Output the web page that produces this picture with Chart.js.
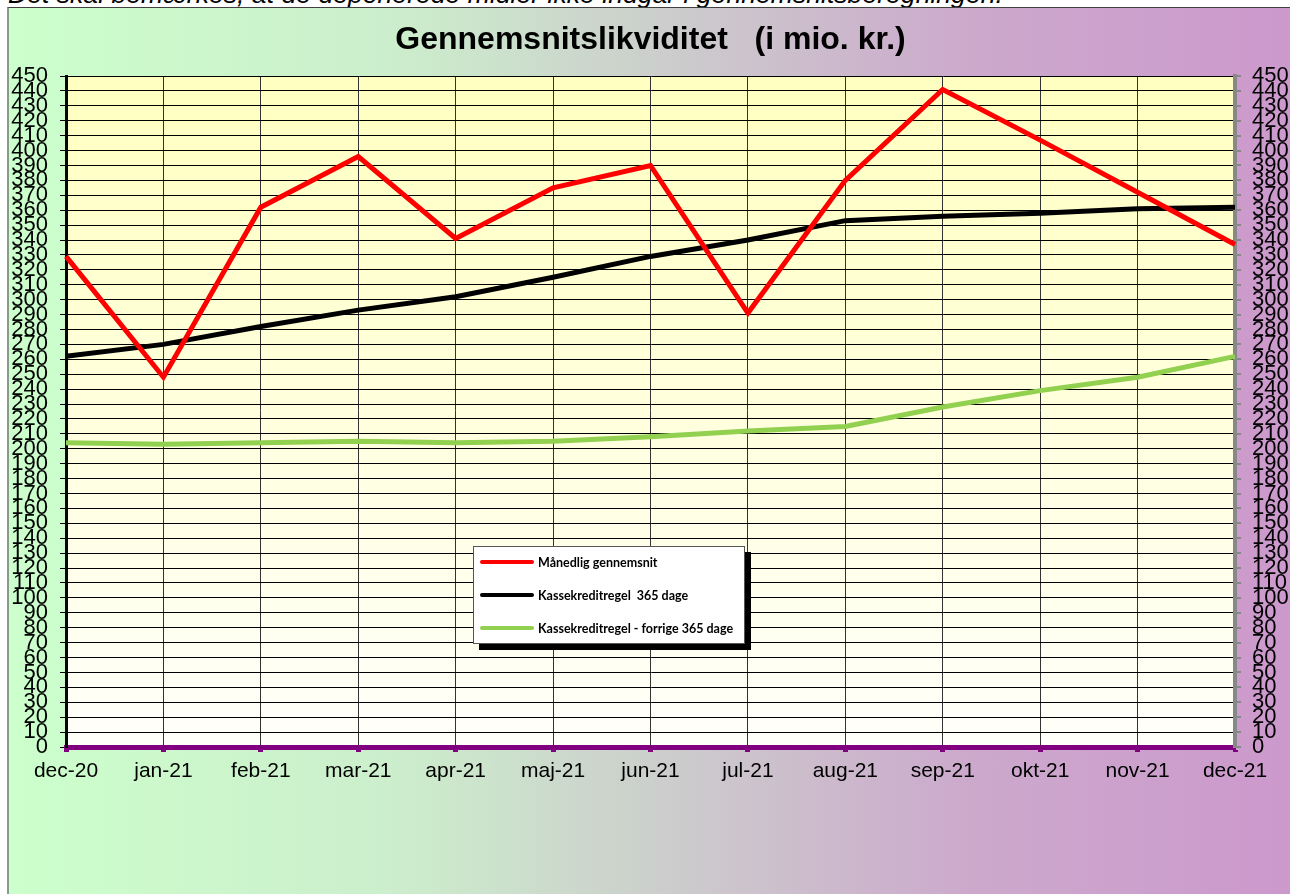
<!DOCTYPE html>
<html>
<head>
<meta charset="utf-8">
<script src="https://cdn.jsdelivr.net/npm/chart.js@4"></script>
<style>
  body { margin: 0; width: 1290px; height: 894px; overflow: hidden; background: #fff; position: relative; }
  #note { position: absolute; left: 8px; top: -21px; font: italic 26.6px "Liberation Sans", Arial, sans-serif; line-height: 30px; color: #000; white-space: nowrap; }
  #box {
    position: absolute; left: 7px; top: 7px; width: 1283px; height: 887px;
    background: linear-gradient(to right, #ccffcc 0%, #cceecc 30%, #cccccc 52%, #cca9cc 75%, #cc99cc 100%);
    border-top: 1px solid #404040; border-left: 2px solid #8a9a8a; box-sizing: border-box;
  }
  #chartWrap { position: absolute; left: 0; top: 0; width: 1283px; height: 887px; }
  #legend {
    position: absolute; left: 464px; top: 538px; width: 272px; height: 98px;
    background: #fff; border: 1px solid #555; box-shadow: 6px 6px 0 #000; box-sizing: border-box;
    font: bold 12.5px Lato, "Noto Sans", sans-serif; color: #000; white-space: pre;
  }
  .item { position: absolute; left: 6px; height: 14px; display: flex; align-items: center; }
  .item span.sw { display: inline-block; width: 54px; height: 4px; margin-right: 4px; border-radius: 2px; }
</style>
</head>
<body>
<div id="note">Det skal bemærkes, at de deponerede midler ikke indgår i gennemsnitsberegningen.</div>
<div id="box">
  <div id="chartWrap"><canvas id="chart"></canvas></div>
  <div id="legend"></div>
</div>
<script>
const months = ["dec-20", "jan-21", "feb-21", "mar-21", "apr-21", "maj-21", "jun-21",
  "jul-21", "aug-21", "sep-21", "okt-21", "nov-21", "dec-21"];
const maanedlig = [329, 248, 362, 396, 341, 375, 390, 291, 380, 441, 407, 372, 337];
const kasse365 = [262, 270, 282, 293, 302, 315, 329, 340, 353, 356, 358, 361, 362];
const forrige365 = [204, 203, 204, 205, 204, 205, 208, 212, 215, 228, 239, 248, 262];
const seriesNames = ["Månedlig gennemsnit", "Kassekreditregel  365 dage", "Kassekreditregel - forrige 365 dage"];
const seriesColors = ["#ff0000", "#000000", "#92d050"];
const yMin = 0, yMax = 450, yStep = 10;

const plotBg = {
  id: "plotBg",
  beforeDraw(chart) {
    const { ctx, chartArea: a } = chart;
    const g = ctx.createLinearGradient(0, a.top, 0, a.bottom);
    g.addColorStop(0, "#ffffc0");
    g.addColorStop(1, "#fffffa");
    ctx.save();
    ctx.fillStyle = g;
    ctx.fillRect(a.left, a.top, a.right - a.left, a.bottom - a.top);
    ctx.restore();
  }
};

const tickFont = { family: "'Liberation Sans', Arial, sans-serif", size: 22, lineHeight: 1 };

new Chart(document.getElementById("chart"), {
  type: "line",
  data: {
    labels: months,
    datasets: [maanedlig, kasse365, forrige365].map((d, i) => ({
      label: seriesNames[i],
      data: d,
      borderColor: seriesColors[i],
      backgroundColor: seriesColors[i],
      borderWidth: 5,
      pointRadius: 0,
      tension: 0,
      yAxisID: "y"
    }))
  },
  options: {
    responsive: true,
    maintainAspectRatio: false,
    animation: false,
    layout: { padding: 0 },
    plugins: {
      legend: { display: false },
      tooltip: { enabled: false },
      title: {
        display: true,
        text: "Gennemsnitslikviditet   (i mio. kr.)",
        color: "#000",
        font: { family: "'Liberation Sans', Arial, sans-serif", size: 32, weight: "bold", lineHeight: 1.2 },
        padding: { top: 13, bottom: 16.6 }
      }
    },
    scales: {
      x: {
        offset: false,
        grid: { color: "#333", lineWidth: 1, tickColor: "#800080", tickWidth: 5, tickLength: 5 },
        border: { color: "#800080", width: 5 },
        ticks: { color: "#000", font: { family: "'Liberation Sans', Arial, sans-serif", size: 21 }, padding: 7, maxRotation: 0, autoSkip: false },
        afterFit(s) { s.height = 148; }
      },
      y: {
        position: "left",
        min: yMin, max: yMax,
        grid: { color: "#000", lineWidth: 1, tickColor: "#000", tickLength: 6 },
        border: { color: "#000", width: 3 },
        ticks: { stepSize: yStep, autoSkip: false, color: "#000", font: tickFont, padding: 12 },
        afterFit(s) { s.width = 57; }
      },
      y2: {
        position: "right",
        min: yMin, max: yMax,
        grid: { drawOnChartArea: false, tickColor: "#888", tickLength: 6, lineWidth: 2 },
        border: { color: "#888", width: 4 },
        ticks: { stepSize: yStep, autoSkip: false, color: "#000", font: tickFont, padding: 11 },
        afterFit(s) { s.width = 57; }
      }
    }
  },
  plugins: [plotBg]
});

const legend = document.getElementById("legend");
seriesNames.forEach((name, i) => {
  const it = document.createElement("div");
  it.className = "item";
  it.style.top = (8 + i * 33) + "px";
  it.innerHTML = '<span class="sw" style="background:' + seriesColors[i] + '"></span>' + name;
  legend.appendChild(it);
});
</script>
</body>
</html>
